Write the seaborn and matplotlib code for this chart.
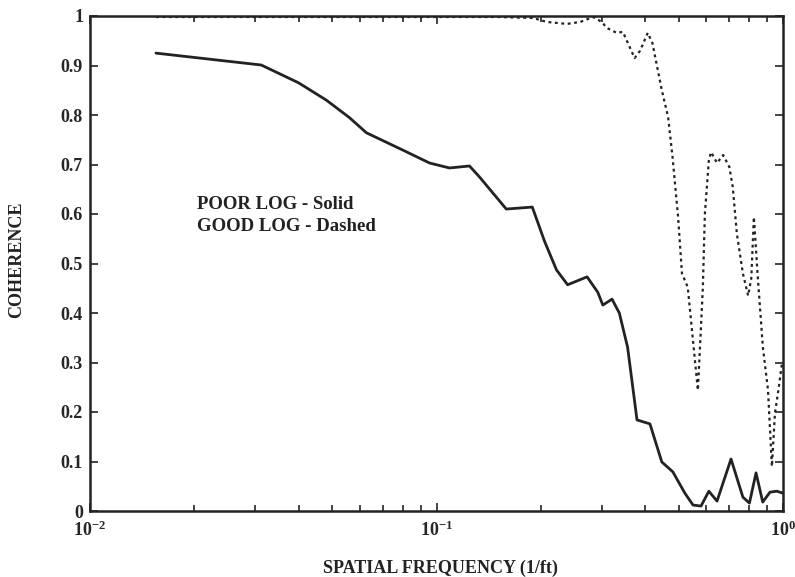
import numpy as np
import pandas as pd
import matplotlib
matplotlib.use("Agg")
import matplotlib.pyplot as plt
import seaborn as sns
from matplotlib.ticker import FixedLocator, FixedFormatter, LogLocator, NullFormatter

# -------------------- data --------------------
poor_freq = [0.0155, 0.0312, 0.0400, 0.0481, 0.0560, 0.0628, 0.080, 0.0955, 0.109, 0.1245,
             0.133, 0.159, 0.189, 0.205, 0.222, 0.239, 0.272, 0.292, 0.302, 0.321, 0.337,
             0.356, 0.379, 0.413, 0.447, 0.481, 0.521, 0.550, 0.580, 0.611, 0.645,
             0.708, 0.766, 0.800, 0.836, 0.874, 0.917, 0.960, 1.0]
poor_coh = [0.925, 0.901, 0.865, 0.830, 0.795, 0.764, 0.729, 0.703, 0.693, 0.697,
            0.675, 0.610, 0.614, 0.545, 0.487, 0.457, 0.473, 0.442, 0.416, 0.428, 0.400,
            0.331, 0.184, 0.176, 0.099, 0.079, 0.036, 0.012, 0.010, 0.040, 0.020,
            0.105, 0.028, 0.016, 0.077, 0.018, 0.038, 0.040, 0.036]

good_freq = [0.0155, 0.10, 0.15, 0.19, 0.208, 0.238, 0.26, 0.283, 0.30, 0.310,
             0.331, 0.345, 0.373, 0.387, 0.407, 0.42, 0.447, 0.466, 0.48, 0.498,
             0.511, 0.531, 0.568, 0.587, 0.595, 0.611, 0.62, 0.645, 0.672, 0.70,
             0.716, 0.736, 0.766, 0.793, 0.810, 0.824, 0.847, 0.875, 0.905, 0.929,
             0.948, 0.968, 0.994]
good_coh = [0.998, 0.998, 0.998, 0.996, 0.988, 0.984, 0.988, 0.998, 0.988, 0.976,
            0.966, 0.968, 0.915, 0.930, 0.966, 0.945, 0.850, 0.796, 0.715, 0.594,
            0.480, 0.452, 0.244, 0.450, 0.600, 0.709, 0.725, 0.703, 0.719, 0.695,
            0.655, 0.560, 0.480, 0.435, 0.470, 0.594, 0.466, 0.330, 0.245, 0.090,
            0.198, 0.240, 0.300]

y_ticks = [0, 0.1, 0.2, 0.3, 0.4, 0.5, 0.6, 0.7, 0.8, 0.9, 1]
y_tick_labels = ["0", "0.1", "0.2", "0.3", "0.4", "0.5", "0.6", "0.7", "0.8", "0.9", "1"]
x_ticks = [0.01, 0.1, 1]
x_tick_labels = [r"$\mathbf{10^{-2}}$", r"$\mathbf{10^{-1}}$", r"$\mathbf{10^{0}}$"]

sns.set_style("ticks")
plt.rcParams["font.family"] = ["Liberation Serif", "DejaVu Serif"]
plt.rcParams["font.weight"] = "bold"
plt.rcParams["mathtext.fontset"] = "custom"
plt.rcParams["mathtext.rm"] = "Liberation Serif"
plt.rcParams["mathtext.bf"] = "Liberation Serif:bold"

df_poor = pd.DataFrame({"freq": poor_freq, "coh": poor_coh})
df_good = pd.DataFrame({"freq": good_freq, "coh": good_coh})

fig = plt.figure(figsize=(7.95, 5.77), dpi=100)
ax = fig.add_axes([90 / 795, 66 / 577, 693 / 795, 495 / 577])

ink = "#222222"
sns.lineplot(data=df_poor, x="freq", y="coh", ax=ax, color=ink, lw=2.0,
             sort=False, estimator=None)
sns.lineplot(data=df_good, x="freq", y="coh", ax=ax, color=ink, lw=1.6,
             sort=False, estimator=None)
ax.lines[-1].set_dashes((1.3, 1.6))
for ln in ax.lines:
    ln.set_solid_joinstyle("round")

ax.set_xscale("log")
ax.set_xlim(0.01, 1)
ax.set_ylim(0, 1)

ax.xaxis.set_major_locator(FixedLocator(x_ticks))
ax.xaxis.set_major_formatter(FixedFormatter(x_tick_labels))
ax.xaxis.set_minor_locator(LogLocator(base=10, subs=np.arange(2, 10)))
ax.xaxis.set_minor_formatter(NullFormatter())
ax.yaxis.set_major_locator(FixedLocator(y_ticks))
ax.yaxis.set_major_formatter(FixedFormatter(y_tick_labels))

ax.tick_params(which="both", direction="in", top=True, right=True, color=ink, width=1.2)
ax.tick_params(which="major", length=6)
ax.tick_params(which="minor", length=4)
ax.tick_params(axis="y", labelsize=13, pad=5)
ax.tick_params(axis="x", labelsize=13, pad=7)

for s in ax.spines.values():
    s.set_linewidth(1.8)
    s.set_color(ink)

ax.set_xlabel("SPATIAL FREQUENCY (1/ft)", fontsize=13, color=ink, fontweight="bold")
ax.set_ylabel("COHERENCE", fontsize=13, color=ink, fontweight="bold")
ax.xaxis.set_label_coords(0.505, -0.099)
ax.yaxis.set_label_coords(-0.094, 0.507)

ax.text(0.155, 0.62, "POOR LOG - Solid", transform=ax.transAxes, fontsize=13.5,
        color=ink, va="center", ha="left", fontweight="bold")
ax.text(0.155, 0.574, "GOOD LOG - Dashed", transform=ax.transAxes, fontsize=13.5,
        color=ink, va="center", ha="left", fontweight="bold")

fig.savefig("out.png", dpi=100)
plt.close(fig)
